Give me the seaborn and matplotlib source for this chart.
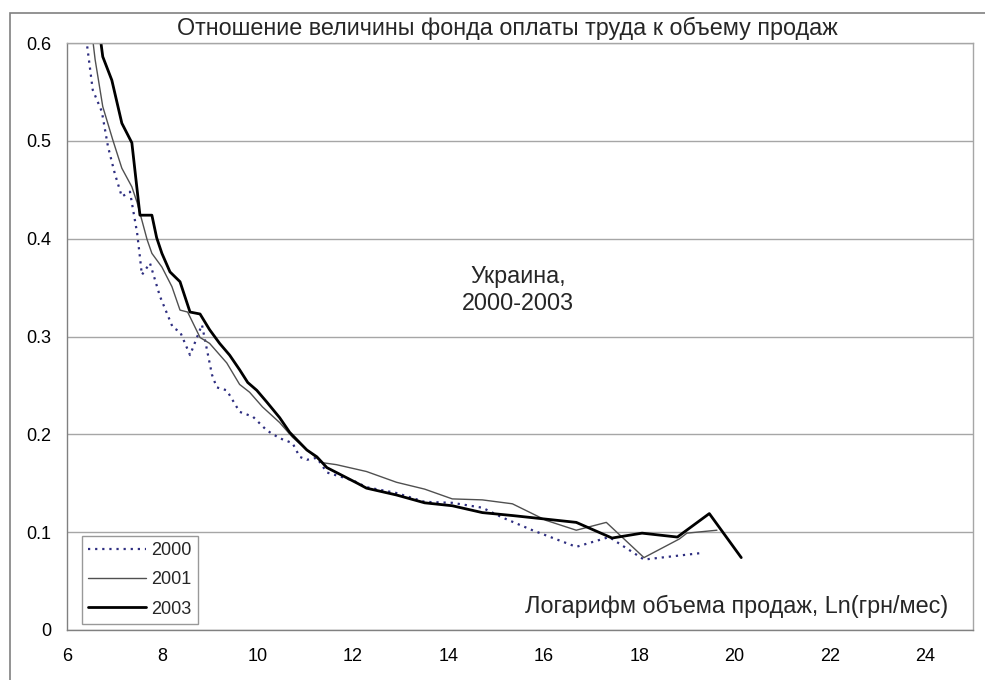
import matplotlib
matplotlib.use("Agg")
import matplotlib.pyplot as plt
import seaborn as sns
import pandas as pd
from matplotlib.patches import Rectangle

# ---- data ----
x2000 = [6.35, 6.42, 6.54, 6.73, 6.86, 7.00, 7.15, 7.32, 7.47, 7.53, 7.57, 7.74, 7.95, 8.22,
         8.37, 8.58, 8.83, 9.04, 9.14, 9.35, 9.62, 9.90, 10.19, 10.46, 10.73, 10.88, 11.03,
         11.24, 11.45, 11.99, 12.28, 12.91, 13.50, 14.08, 14.71, 15.13, 15.76, 16.68, 17.37,
         18.10, 19.36]
y2000 = [0.640, 0.598, 0.552, 0.530, 0.494, 0.467, 0.443, 0.448, 0.406, 0.381, 0.363, 0.375,
         0.341, 0.309, 0.305, 0.281, 0.312, 0.261, 0.248, 0.245, 0.223, 0.218, 0.204, 0.196,
         0.191, 0.177, 0.174, 0.176, 0.161, 0.153, 0.146, 0.140, 0.131, 0.130, 0.125, 0.115,
         0.102, 0.085, 0.095, 0.072, 0.079]

x2001 = [6.45, 6.59, 6.75, 6.96, 7.15, 7.36, 7.47, 7.68, 7.78, 7.99, 8.20, 8.37, 8.53, 8.79,
         8.99, 9.35, 9.62, 9.83, 10.10, 10.46, 10.73, 11.03, 11.36, 11.65, 12.28, 12.91, 13.50,
         14.08, 14.71, 15.34, 16.05, 16.68, 17.31, 18.10, 18.84, 19.00, 19.63]
y2001 = [0.640, 0.583, 0.535, 0.501, 0.472, 0.453, 0.437, 0.399, 0.385, 0.371, 0.351, 0.327,
         0.325, 0.299, 0.293, 0.273, 0.251, 0.243, 0.228, 0.212, 0.197, 0.184, 0.171, 0.169,
         0.162, 0.151, 0.144, 0.134, 0.133, 0.129, 0.112, 0.102, 0.110, 0.074, 0.093, 0.099,
         0.102]

x2003 = [6.55, 6.75, 6.94, 7.15, 7.36, 7.53, 7.78, 7.88, 7.99, 8.16, 8.37, 8.58, 8.79, 8.99,
         9.20, 9.41, 9.62, 9.79, 9.98, 10.19, 10.46, 10.67, 11.03, 11.24, 11.45, 12.09, 12.28,
         12.91, 13.50, 14.08, 14.71, 15.34, 16.68, 17.43, 18.06, 18.80, 19.47, 20.14]
y2003 = [0.660, 0.586, 0.562, 0.518, 0.498, 0.424, 0.424, 0.401, 0.385, 0.366, 0.356, 0.325,
         0.323, 0.307, 0.293, 0.281, 0.266, 0.253, 0.245, 0.233, 0.217, 0.202, 0.184, 0.177,
         0.166, 0.150, 0.145, 0.138, 0.130, 0.127, 0.120, 0.117, 0.110, 0.094, 0.099, 0.095,
         0.119, 0.074]

series_names = ["2000", "2001", "2003"]
x_ticks = [6, 8, 10, 12, 14, 16, 18, 20, 22, 24]
y_ticks = [0, 0.1, 0.2, 0.3, 0.4, 0.5, 0.6]
y_tick_labels = ["0", "0.1", "0.2", "0.3", "0.4", "0.5", "0.6"]

title = "Отношение величины фонда оплаты труда к объему продаж"
note = "Украина,\n2000-2003"
xlabel = "Логарифм объема продаж, Ln(грн/мес)"

# ---- plot ----
sns.set_style("white")
plt.rcParams["font.family"] = ["Liberation Sans", "DejaVu Sans"]

fig = plt.figure(figsize=(9.85, 6.8), dpi=100)
ax = fig.add_axes([67 / 985, 1 - 630 / 680, (973 - 67) / 985, (630 - 43) / 680])

df0 = pd.DataFrame({"x": x2000, "y": y2000})
df1 = pd.DataFrame({"x": x2001, "y": y2001})
df3 = pd.DataFrame({"x": x2003, "y": y2003})

sns.lineplot(data=df0, x="x", y="y", ax=ax, color="#2e2e80", linewidth=1.6,
             linestyle=(0, (1, 2.2)), sort=False, label=series_names[0])
sns.lineplot(data=df1, x="x", y="y", ax=ax, color="#505050", linewidth=1.0,
             sort=False, label=series_names[1])
sns.lineplot(data=df3, x="x", y="y", ax=ax, color="#000000", linewidth=2.0,
             sort=False, label=series_names[2])

ax.set_xlim(6, 25)
ax.set_ylim(0, 0.6)
ax.set_xticks(x_ticks)
ax.set_xticklabels([str(t) for t in x_ticks])
ax.set_yticks(y_ticks)
ax.set_yticklabels(y_tick_labels)
ax.set_xlabel("")
ax.set_ylabel("")
ax.tick_params(axis="both", direction="out", length=5, width=1, color="#808080",
               labelsize=13, labelcolor="#000000", pad=6)
ax.tick_params(axis="x", length=4, pad=9)
ax.yaxis.grid(True, color="#a6a6a6", linewidth=1)
ax.xaxis.grid(False)
for s in ax.spines.values():
    s.set_color("#a6a6a6")
    s.set_linewidth(1)
ax.spines["left"].set_color("#808080")
ax.spines["bottom"].set_color("#808080")

ax.text(518 / 985, 1 - 290 / 680, note, transform=fig.transFigure, ha="center",
        va="center", fontsize=16.8, linespacing=1.25)
ax.text(948 / 985, 1 - 606 / 680, xlabel, transform=fig.transFigure, ha="right",
        va="center", fontsize=16.8)
fig.text(507 / 985, 1 - 28 / 680, title, ha="center", va="center", fontsize=16.8)

leg = ax.legend(loc="lower left", bbox_to_anchor=(82 / 985, 1 - 624 / 680),
                bbox_transform=fig.transFigure, frameon=True, fancybox=False,
                edgecolor="#808080", fontsize=13, handlelength=3.2, handletextpad=0.3,
                borderpad=0.35, labelspacing=0.68, borderaxespad=0)
leg.get_frame().set_linewidth(1)

fig.add_artist(Rectangle((10 / 985, -0.05), 1.1, 0.05 + 1 - 13 / 680,
                         transform=fig.transFigure, fill=False,
                         edgecolor="#808080", linewidth=1.2, clip_on=False))

fig.savefig("out.png", dpi=100)
